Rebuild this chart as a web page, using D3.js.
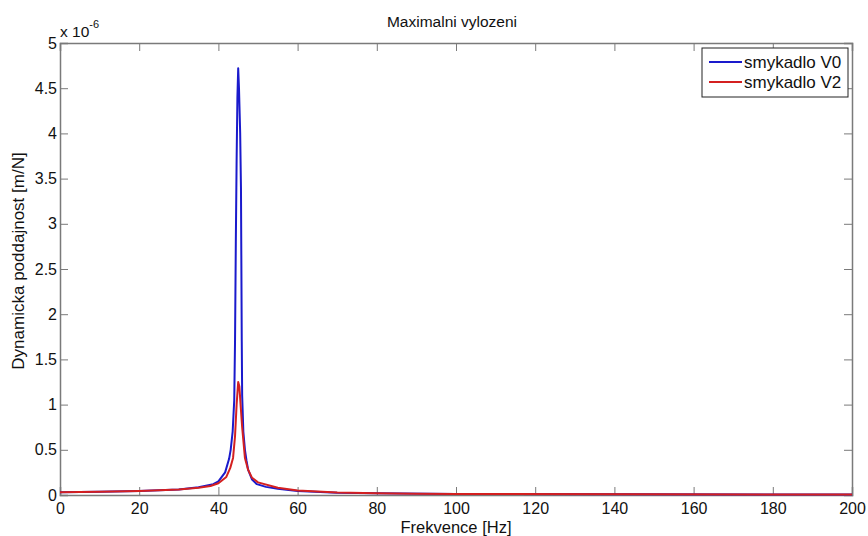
<!DOCTYPE html>
<html>
<head>
<meta charset="utf-8">
<script src="https://cdn.jsdelivr.net/npm/d3@7"></script>
<style>
  body { margin: 0; background: #fff; }
  svg text { font-family: "Liberation Sans", Arial, sans-serif; fill: #111; }
</style>
</head>
<body>
<svg id="chart" width="868" height="536"></svg>
<script>
// ── Data (values in 1e-6 m/N) ───────────────────────────────────────────────
const freqV0 = [0, 10, 20, 30, 35, 38.7, 40, 41.7, 42.7, 43.1, 43.6, 44.0, 44.2, 44.4, 44.6, 44.8, 45.0,
                45.2, 45.5, 45.7, 45.9, 46.0, 46.3, 46.7, 47.1, 47.5, 48.5, 49.7, 52, 55, 60, 70, 80, 100, 150, 200];
const valV0  = [0.03, 0.035, 0.045, 0.06, 0.085, 0.12, 0.15, 0.25, 0.4, 0.5, 0.7, 1.05, 1.7, 2.8, 3.7, 4.4, 4.72,
                4.5, 4.0, 3.4, 1.7, 1.1, 0.7, 0.5, 0.38, 0.28, 0.17, 0.12, 0.09, 0.07, 0.045, 0.025, 0.018, 0.012, 0.008, 0.006];

const freqV2 = [0, 10, 20, 30, 35, 38, 40, 42, 43, 43.7, 44.2, 44.6, 45.0, 45.3, 45.6, 46.0, 46.7, 47.5,
                48.5, 50, 55, 60, 70, 80, 90, 100, 150, 200];
const valV2  = [0.03, 0.035, 0.045, 0.06, 0.08, 0.1, 0.13, 0.2, 0.3, 0.41, 0.65, 1.0, 1.25, 1.2, 1.0, 0.75, 0.41, 0.28,
                0.19, 0.14, 0.08, 0.05, 0.028, 0.02, 0.015, 0.012, 0.008, 0.006];

const xTicks = [0, 20, 40, 60, 80, 100, 120, 140, 160, 180, 200];
const yTicks = [0, 0.5, 1, 1.5, 2, 2.5, 3, 3.5, 4, 4.5, 5];

const series = [
  { name: 'smykadlo V0', color: '#1a1acc', f: freqV0, v: valV0 },
  { name: 'smykadlo V2', color: '#d42020', f: freqV2, v: valV2 },
];

// ── Layout ────────────────────────────────────────────────────────────────
const L = 60, R = 852, T = 43, B = 495;
const AXIS = '#7a7a7a';
const FONT = '"Liberation Sans", Arial, sans-serif';
const svg = d3.select('#chart');

const x = d3.scaleLinear().domain([0, 200]).range([L, R]);
const y = d3.scaleLinear().domain([0, 5]).range([B, T]);

// ── Axes (ticks inward, box) ──────────────────────────────────────────────
const gx = svg.append('g').attr('transform', `translate(0,${B})`)
  .call(d3.axisBottom(x).tickValues(xTicks).tickSize(-8).tickPadding(8));
const gxt = svg.append('g').attr('transform', `translate(0,${T})`)
  .call(d3.axisTop(x).tickValues(xTicks).tickSize(-8).tickFormat(''));
const gy = svg.append('g').attr('transform', `translate(${L},0)`)
  .call(d3.axisLeft(y).tickValues(yTicks).tickSize(-8).tickPadding(3).tickFormat(d3.format('~g')));
const gyr = svg.append('g').attr('transform', `translate(${R},0)`)
  .call(d3.axisRight(y).tickValues(yTicks).tickSize(-8).tickFormat(''));

[gx, gxt, gy, gyr].forEach(g => {
  g.select('.domain').attr('stroke', AXIS).attr('stroke-width', 1.5);
  g.selectAll('.tick line').attr('stroke', AXIS);
  g.selectAll('.tick text').attr('font-size', 16).attr('fill', '#111').attr('font-family', FONT);
});

// ── Lines ─────────────────────────────────────────────────────────────────
const line = d3.line().x(d => x(d[0])).y(d => y(d[1]));
series.forEach(s => {
  svg.append('path')
    .datum(s.f.map((f, i) => [f, s.v[i]]))
    .attr('fill', 'none')
    .attr('stroke', s.color)
    .attr('stroke-width', 2)
    .attr('stroke-linejoin', 'round')
    .attr('d', line);
});

// ── Texts ─────────────────────────────────────────────────────────────────
svg.append('text').attr('x', 452).attr('y', 27).attr('text-anchor', 'middle')
  .attr('font-size', 15.5).text('Maximalni vylozeni');
svg.append('text').attr('x', 456).attr('y', 533).attr('text-anchor', 'middle')
  .attr('font-size', 16.5).text('Frekvence [Hz]');
svg.append('text').attr('transform', `translate(24,261) rotate(-90)`)
  .attr('text-anchor', 'middle').attr('font-size', 17).text('Dynamicka poddajnost [m/N]');

const exp = svg.append('text').attr('x', 60).attr('y', 37).attr('font-size', 15.5);
exp.append('tspan').text('x 10');
exp.append('tspan').attr('dy', -9).attr('font-size', 11).text('-6');

// ── Legend ────────────────────────────────────────────────────────────────
const lg = svg.append('g').attr('transform', 'translate(702,48)');
lg.append('rect').attr('width', 146).attr('height', 49)
  .attr('fill', '#fff').attr('stroke', '#222').attr('stroke-width', 1);
series.forEach((s, i) => {
  const yy = 14 + i * 20;
  lg.append('line').attr('x1', 7).attr('x2', 40).attr('y1', yy).attr('y2', yy)
    .attr('stroke', s.color).attr('stroke-width', 2);
  lg.append('text').attr('x', 42).attr('y', yy + 6).attr('font-size', 17).text(s.name);
});
</script>
</body>
</html>
